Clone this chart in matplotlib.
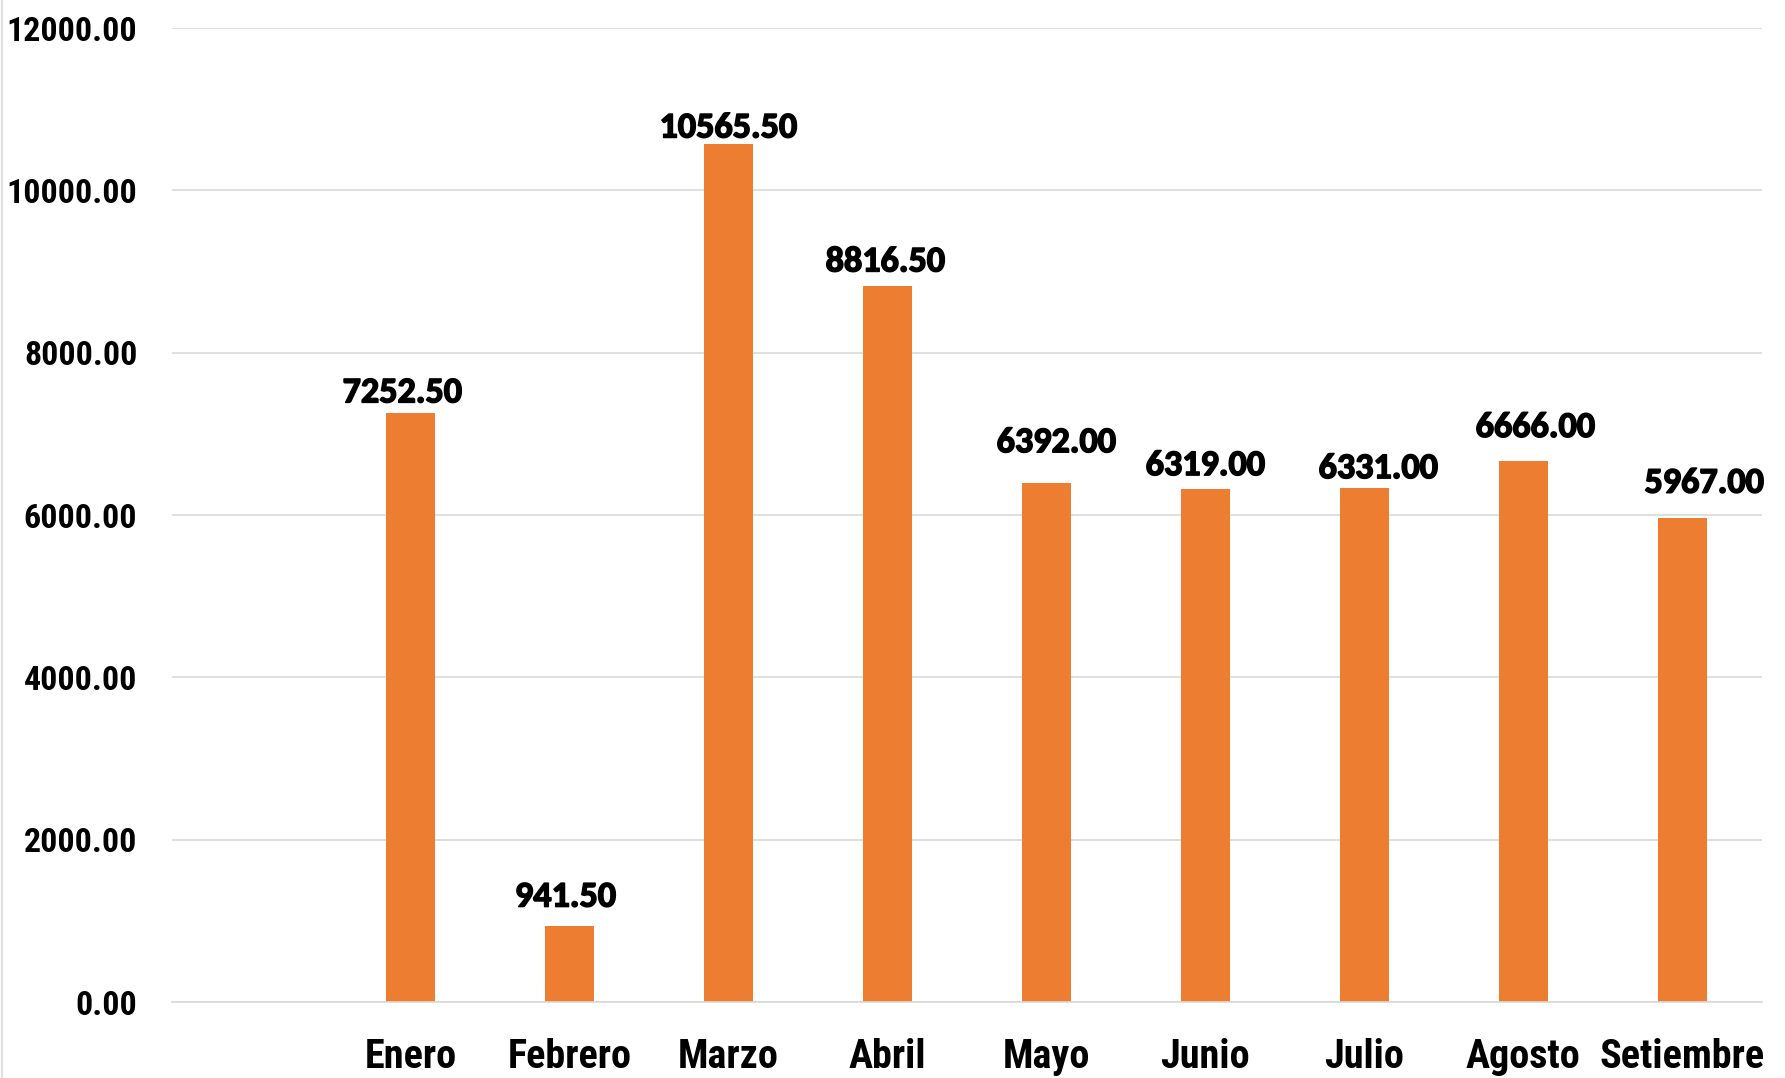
import matplotlib.pyplot as plt
from matplotlib.lines import Line2D
from matplotlib import font_manager as fm
from matplotlib import patheffects as pe

# data (first category slot is empty)
months = ["", "Enero", "Febrero", "Marzo", "Abril", "Mayo", "Junio",
          "Julio", "Agosto", "Setiembre"]
values = [None, 7252.50, 941.50, 10565.50, 8816.50, 6392.00, 6319.00,
          6331.00, 6666.00, 5967.00]
yticks = [0, 2000, 4000, 6000, 8000, 10000, 12000]

# hand placed label nudges in the original (pixels: right, above bar top)
label_dx = [0, -8, -4, 0, -2, 10, 0, 14, 12, 22]
label_dy = [0, 11, 19, 7, 15, 31, 14, 10, 24, 25]

orange = "#ED7D31"
grid = "#D9D9D9"


def has_bold(name):
   for f in fm.fontManager.ttflist:
      if f.name == name and (f.weight == "bold" or
                             (isinstance(f.weight, int) and f.weight >= 700)):
         return True
   return False


# condensed bold for the axes (Arial Narrow look), size scaled to width
narrow_sizes = {"Liberation Sans Narrow": (25.5, 30), "Roboto Condensed": (24.5, 29)}
axis_font, ysize, xsize = "Liberation Sans", 21.4, 24.5
for name in narrow_sizes:
   if has_bold(name):
      axis_font = name
      ysize, xsize = narrow_sizes[name]
      break

# Calibri bold look for the value labels
label_sizes = {"Carlito": 26, "Open Sans": 23.4, "Noto Sans": 23.4,
               "Roboto": 24, "Lato": 24.5}
label_font, lsize = "DejaVu Sans", 21
for name in label_sizes:
   if has_bold(name):
      label_font, lsize = name, label_sizes[name]
      break

fig = plt.figure(figsize=(17.85, 10.78), dpi=100, facecolor="w")
ax = fig.add_axes([0.0964, 0.0705, 0.8906, 0.9035])

xs = list(range(len(months)))
for x, v, dx, dy in zip(xs, values, label_dx, label_dy):
   if v is None:
      continue
   ax.bar(x, v, width=0.31, color=orange, zorder=3)
   ax.annotate("%.2f" % v, (x, v), xytext=(dx * 0.72, dy * 0.72),
               textcoords="offset points", ha="center", va="baseline",
               fontsize=lsize, fontweight="bold",
               family=[label_font, "DejaVu Sans"], color="black", zorder=4,
               path_effects=[pe.withStroke(linewidth=1.1, foreground="black")])

ax.set_xlim(-0.5, len(months) - 0.5)
ax.set_ylim(0, 12000)
ax.set_yticks(yticks)
ax.set_yticklabels(["%.2f" % t for t in yticks], family=[axis_font, "DejaVu Sans"],
                   fontsize=ysize, fontweight="bold")
ax.set_xticks(xs)
ax.set_xticklabels(months, family=[axis_font, "DejaVu Sans"], fontsize=xsize,
                   fontweight="bold")
ax.tick_params(axis="y", length=0, pad=25)
ax.tick_params(axis="x", length=0, pad=26)

ax.grid(axis="y", color=grid, linewidth=1.2, zorder=0)
for s in ["top", "right", "left"]:
   ax.spines[s].set_visible(False)
ax.spines["bottom"].set_color(grid)
ax.spines["bottom"].set_linewidth(1.2)
ax.spines["bottom"].set_zorder(4)

# faint frame line at the very left of the picture
fig.add_artist(Line2D([0.0012, 0.0012], [0, 1], color="#E0E0E0",
                      linewidth=1.5, transform=fig.transFigure))

fig.savefig("out.png", dpi=100)
